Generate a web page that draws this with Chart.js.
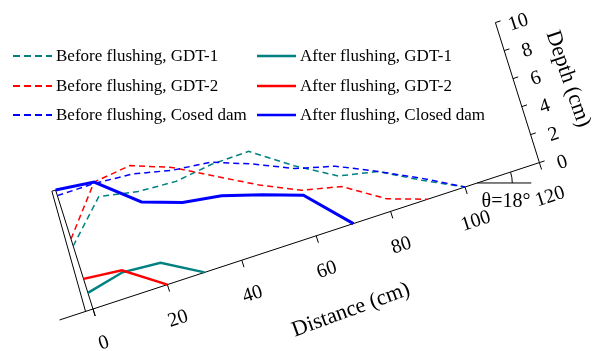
<!DOCTYPE html>
<html>
<head>
<meta charset="utf-8">
<script src="https://cdn.jsdelivr.net/npm/chart.js@4.4.0/dist/chart.umd.min.js"></script>
<style>
  body { margin: 0; background: #fff; }
  #wrap { width: 601px; height: 351px; }
</style>
</head>
<body>
<div id="wrap"><canvas id="profileChart" width="601" height="351"></canvas></div>
<script>
// bed profiles, distance (cm) vs depth (cm)
const distance = [0, 10, 20, 30, 40, 50, 60, 70, 80, 90, 100];
const beforeGdt1 = [4.5, 7.15, 6.65, 6.5, 6.85, 6.9, 5.0, 3.4, 2.85, 1.35, 0];
const beforeGdt2 = [5.0, 8.2, 8.5, 7.5, 6.0, 4.5, 3.25, 2.65, 0.9, 0];
const beforeDam = [8.1, 8.1, 7.9, 7.3, 7.0, 6.0, 4.8, 4.1, 2.85, 1.5, 0];
const afterGdt1 = [1.15, 1.75, 1.55, 0];
const afterGdt2 = [2.15, 1.9, 0];
const afterDam = [8.5, 8.2, 5.9, 5.0, 4.6, 3.8, 2.9, 0];

const distanceTicks = [0, 20, 40, 60, 80, 100, 120];
const depthTicks = [0, 2, 4, 6, 8, 10];
const theta = 18;

const TEAL = '#008080', RED = '#ff0000', BLUE = '#0000ff';
const SERIF = '"Liberation Serif", "Times New Roman", serif';

// oblique projection of (distance, depth) onto the page plane
const ORIGIN = { x: 93, y: 309 };
const DX = { x: 3.72, y: -1.22 };   // one cm of distance
const DH = { x: -4.4, y: -14.0 };   // one cm of depth
function proj(d, h) {
    return { x: ORIGIN.x + d * DX.x + h * DH.x, y: ORIGIN.y + d * DX.y + h * DH.y };
}

function series(label, vals, color, dashed, width) {
    return {
        label: label,
        data: vals.map((h, i) => proj(distance[i], h)),
        borderColor: color,
        backgroundColor: color,
        borderWidth: width,
        borderDash: dashed ? [6, 4] : [],
        showLine: true,
        fill: false,
        pointRadius: 0,
        tension: 0
    };
}

const datasets = [
    series('After flushing, Closed dam', afterDam, BLUE, false, 3),
    series('After flushing, GDT-2', afterGdt2, RED, false, 2.5),
    series('After flushing, GDT-1', afterGdt1, TEAL, false, 2.5),
    series('Before flushing, Cosed dam', beforeDam, BLUE, true, 1.5),
    series('Before flushing, GDT-2', beforeGdt2, RED, true, 1.5),
    series('Before flushing, GDT-1', beforeGdt1, TEAL, true, 1.5)
];

const legendCols = [
    { x: 13, items: [5, 4, 3] },
    { x: 257, items: [2, 1, 0] }
];
const legendRows = [57, 87, 116];

const axesPlugin = {
    id: 'obliqueAxes',
    beforeDatasetsDraw(chart) {
        const ctx = chart.ctx;
        const sx = chart.scales.x, sy = chart.scales.y;
        const P = (d, h) => { const p = proj(d, h); return [sx.getPixelForValue(p.x), sy.getPixelForValue(p.y)]; };
        const seg = (a, b) => { ctx.beginPath(); ctx.moveTo(a[0], a[1]); ctx.lineTo(b[0], b[1]); ctx.stroke(); };

        ctx.save();
        ctx.strokeStyle = '#000';
        ctx.lineWidth = 1;
        // distance axis + ticks
        seg(P(-9, 0), P(120, 0));
        distanceTicks.forEach(d => seg(P(d, 0), P(d, -0.5)));
        // depth axis + ticks
        seg(P(120, 0), P(120, 10));
        depthTicks.forEach(h => seg(P(120, h), P(121.4, h)));
        // wall
        ctx.beginPath();
        const w = [P(-2, 0), P(-1, 8.5), P(0, 8.5), P(0, -0.5)];
        ctx.moveTo(w[0][0], w[0][1]);
        w.slice(1).forEach(p => ctx.lineTo(p[0], p[1]));
        ctx.stroke();

        // angle mark
        const v = P(103.3, 0);
        seg(v, [v[0] + 54, v[1]]);
        ctx.beginPath();
        ctx.arc(v[0], v[1], 35, -theta * Math.PI / 180, 0);
        ctx.stroke();
        ctx.restore();
    },
    afterDatasetsDraw(chart) {
        const ctx = chart.ctx;
        const sx = chart.scales.x, sy = chart.scales.y;
        const P = (d, h) => { const p = proj(d, h); return [sx.getPixelForValue(p.x), sy.getPixelForValue(p.y)]; };
        const rotText = (txt, x, y, deg, font) => {
            ctx.save();
            ctx.translate(x, y);
            ctx.rotate(deg * Math.PI / 180);
            ctx.font = font;
            ctx.fillText(txt, 0, 0);
            ctx.restore();
        };

        ctx.save();
        ctx.fillStyle = '#000';
        ctx.textAlign = 'center';
        ctx.textBaseline = 'middle';
        distanceTicks.forEach(d => {
            const p = P(d, -2.45);
            rotText(String(d), p[0], p[1], -18, '20px ' + SERIF);
        });
        depthTicks.forEach(h => {
            const p = P(120, h);
            rotText(String(h), p[0] + 23, p[1], -18, '20px ' + SERIF);
        });
        rotText('Distance (cm)', 351, 310, -20, '22px ' + SERIF);
        rotText('Depth (cm)', 568, 79, 71, '22px ' + SERIF);

        ctx.font = '20px ' + SERIF;
        ctx.textBaseline = 'alphabetic';
        ctx.fillText('θ=18°', 506, 207);

        // legend
        ctx.textAlign = 'left';
        ctx.textBaseline = 'middle';
        ctx.font = '17px ' + SERIF;
        legendCols.forEach(col => {
            col.items.forEach((idx, r) => {
                const ds = chart.data.datasets[idx];
                const y = legendRows[r];
                ctx.save();
                ctx.strokeStyle = ds.borderColor;
                ctx.lineWidth = ds.borderDash.length ? 2 : 2.5;
                ctx.setLineDash(ds.borderDash.length ? [7, 4] : []);
                ctx.beginPath();
                ctx.moveTo(col.x, y - 1);
                ctx.lineTo(col.x + 39, y - 1);
                ctx.stroke();
                ctx.restore();
                ctx.fillText(ds.label, col.x + 43, y);
            });
        });
        ctx.restore();
    }
};

new Chart(document.getElementById('profileChart').getContext('2d'), {
    type: 'scatter',
    data: { datasets: datasets },
    options: {
        responsive: false,
        animation: false,
        devicePixelRatio: 1,
        layout: { padding: 0 },
        plugins: { legend: { display: false }, tooltip: { enabled: false } },
        scales: {
            x: { type: 'linear', min: 0, max: 601, display: false },
            y: { type: 'linear', min: 0, max: 351, reverse: true, display: false }
        }
    },
    plugins: [axesPlugin]
});
</script>
</body>
</html>
